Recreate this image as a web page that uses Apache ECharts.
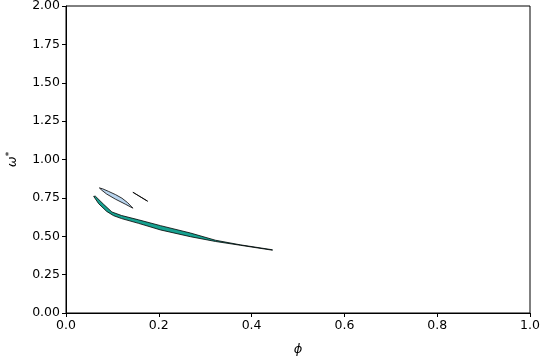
<!DOCTYPE html>
<html><head><meta charset="utf-8">
<script src="https://cdn.jsdelivr.net/npm/echarts@6/dist/echarts.min.js"></script>
<style>html,body{margin:0;padding:0;background:#fff}#c{width:540px;height:360px}</style>
</head><body><div id="c"></div>
<script>
// Teal region (outer edge then inner edge back)
var tealX = [0.0596,0.0704,0.0876,0.1026,0.1199,0.1564,0.2038,0.2683,0.3222,0.376,0.4449,
             0.4449,0.376,0.3222,0.2683,0.2038,0.1564,0.1199,0.099,0.0811,0.0633];
var tealY = [0.760,0.712,0.662,0.634,0.615,0.584,0.541,0.497,0.466,0.441,0.409,
             0.412,0.444,0.474,0.521,0.569,0.607,0.635,0.658,0.708,0.761];
// Light blue region
var blueX = [0.0719,0.079,0.0919,0.1069,0.1205,0.1328,0.1442,0.1278,0.1063,0.0876,0.0775];
var blueY = [0.815,0.809,0.792,0.771,0.748,0.719,0.683,0.709,0.742,0.775,0.799];
// Thin segment region
var segX = [0.1442,0.1758,0.1758,0.1442];
var segY = [0.787,0.729,0.728,0.786];

var xTicks = [0.0,0.2,0.4,0.6,0.8,1.0];
var yTicks = [0.00,0.25,0.50,0.75,1.00,1.25,1.50,1.75,2.00];

function polySeries(xs, ys, fill) {
  return {
    type: 'custom',
    data: [[xs[0], ys[0]]],
    renderItem: function (params, api) {
      var pts = [];
      for (var i = 0; i < xs.length; i++) pts.push(api.coord([xs[i], ys[i]]));
      return {
        type: 'polygon',
        shape: { points: pts },
        style: { fill: fill, stroke: '#000', lineWidth: 0.8 }
      };
    },
    silent: true
  };
}

var chart = echarts.init(document.getElementById('c'));
var font = 'DejaVu Sans';
chart.setOption({
  animation: false,
  grid: { left: 66, right: 10, top: 6, bottom: 47, containLabel: false, outerBoundsMode: 'none',
          show: true, borderColor: '#000', borderWidth: 1 },
  xAxis: {
    type: 'value', min: 0, max: 1, interval: 0.2,
    name: 'ϕ', nameLocation: 'middle', nameGap: 30,
    nameTextStyle: { fontFamily: font, fontSize: 13, fontStyle: 'italic', color: '#000' },
    axisLine: { show: true, lineStyle: { color: '#000', width: 1 } },
    axisTick: { show: true, length: 4, lineStyle: { color: '#000' } },
    axisLabel: { fontFamily: font, fontSize: 12.5, color: '#000', margin: 6,
      formatter: function (v) { return v.toFixed(1); } },
    splitLine: { show: false }
  },
  yAxis: {
    type: 'value', min: 0, max: 2, interval: 0.25,
    name: '{a|ω}{b|*}', nameLocation: 'middle', nameGap: 46, nameRotate: 90,
    nameTextStyle: { fontFamily: font, color: '#000',
      rich: { a: { fontFamily: font, fontSize: 13, fontStyle: 'italic', color: '#000' },
              b: { fontFamily: font, fontSize: 9, color: '#000', verticalAlign: 'top', padding: [0,0,6,0] } } },
    axisLine: { show: true, lineStyle: { color: '#000', width: 1 } },
    axisTick: { show: true, length: 4, lineStyle: { color: '#000' } },
    axisLabel: { fontFamily: font, fontSize: 12.5, color: '#000', margin: 6,
      formatter: function (v) { return v.toFixed(2); } },
    splitLine: { show: false }
  },
  series: [
    polySeries(tealX, tealY, '#17a190'),
    polySeries(blueX, blueY, '#b9d5ef'),
    polySeries(segX, segY, '#000')
  ]
});
</script></body></html>
